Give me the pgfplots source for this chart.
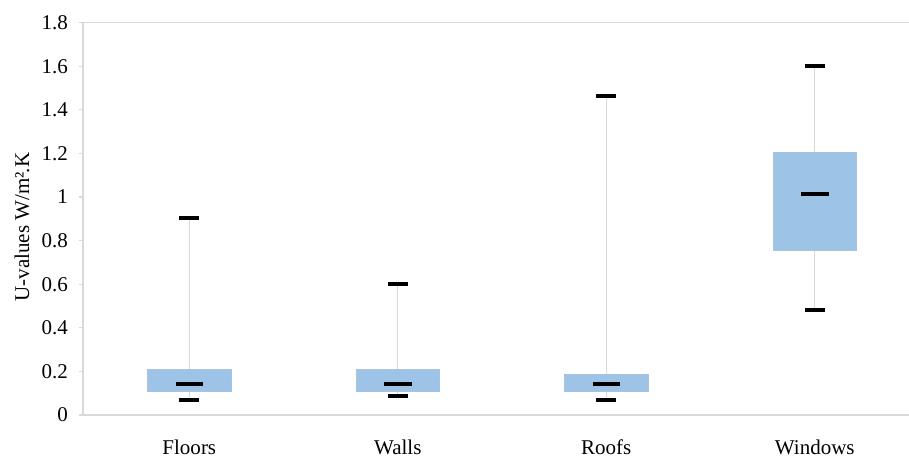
\documentclass[border=0pt]{standalone}
\usepackage{fontspec}
\setmainfont{Liberation Serif}
\usepackage{pgfplots}
\pgfplotsset{compat=1.18}
\usepgfplotslibrary{statistics}

\definecolor{boxfill}{HTML}{9DC3E6}
\definecolor{boxedge}{HTML}{A9C3DE}
\definecolor{linegray}{HTML}{D9D9D9}

\begin{document}
\begin{tikzpicture}
\begin{axis}[
  at={(41.5pt,22pt)}, anchor=south west,
  scale only axis, width=418pt, height=196.15pt,
  xmin=-0.51, xmax=3.5, ymin=0, ymax=1.8,
  ytick={0,0.2,0.4,0.6,0.8,1,1.2,1.4,1.6,1.8},
  xtick={0,1,2,3},
  xticklabels={Floors,Walls,Roofs,Windows},
  x tick style={draw=none},
  y tick style={linegray, line width=0.6pt},
  tick align=outside, major tick length=2pt,
  ytick pos=left,
  axis line style={linegray, line width=0.6pt},
  /pgf/number format/assume math mode=true,
  tick label style={font=\fontsize{10.5}{12}\selectfont, text=black},
  yticklabel style={xshift=-2pt},
  xticklabel style={yshift=-7pt},
  ylabel={U-values W/m²\kern-0.05em.K},
  every axis y label/.style={at={(axis description cs:0,0.479)}, xshift=-30.5pt,
    rotate=90, anchor=center, font=\fontsize{10.5}{12}\selectfont},
  boxplot/draw direction=y,
  boxplot/box extend=0.4,
  boxplot/whisker extend=0.096,
  boxplot/draw/box/.code={%
    \draw[fill=boxfill, draw=boxedge, line width=0.4pt]
      (boxplot box cs:\pgfplotsboxplotvalue{lower quartile},0) rectangle
      (boxplot box cs:\pgfplotsboxplotvalue{upper quartile},1);},
  boxplot/draw/median/.code={%
    \draw[black, line width=2pt]
      (boxplot box cs:\pgfplotsboxplotvalue{median},0.335) --
      (boxplot box cs:\pgfplotsboxplotvalue{median},0.665);},
  boxplot/draw/lower whisker/.code={%
    \draw[linegray, line width=0.5pt]
      (boxplot cs:\pgfplotsboxplotvalue{lower quartile}) --
      (boxplot cs:\pgfplotsboxplotvalue{lower whisker});
    \draw[black, line width=2pt]
      (boxplot whisker cs:\pgfplotsboxplotvalue{lower whisker},0) --
      (boxplot whisker cs:\pgfplotsboxplotvalue{lower whisker},1);},
  boxplot/draw/upper whisker/.code={%
    \draw[linegray, line width=0.5pt]
      (boxplot cs:\pgfplotsboxplotvalue{upper quartile}) --
      (boxplot cs:\pgfplotsboxplotvalue{upper whisker});
    \draw[black, line width=2pt]
      (boxplot whisker cs:\pgfplotsboxplotvalue{upper whisker},0) --
      (boxplot whisker cs:\pgfplotsboxplotvalue{upper whisker},1);},
]
% Floors
\addplot[boxplot prepared={draw position=0,
  lower whisker=0.07, lower quartile=0.107, median=0.141,
  upper quartile=0.21, upper whisker=0.902}] coordinates {};
% Walls
\addplot[boxplot prepared={draw position=1,
  lower whisker=0.086, lower quartile=0.107, median=0.141,
  upper quartile=0.21, upper whisker=0.6}] coordinates {};
% Roofs
\addplot[boxplot prepared={draw position=2,
  lower whisker=0.069, lower quartile=0.107, median=0.141,
  upper quartile=0.185, upper whisker=1.465}] coordinates {};
% Windows
\addplot[boxplot prepared={draw position=3,
  lower whisker=0.483, lower quartile=0.754, median=1.012,
  upper quartile=1.203, upper whisker=1.602}] coordinates {};
\end{axis}
\pgfresetboundingbox
\path[use as bounding box] (0,0) rectangle (454.5pt,229.5pt);
\end{tikzpicture}
\end{document}
